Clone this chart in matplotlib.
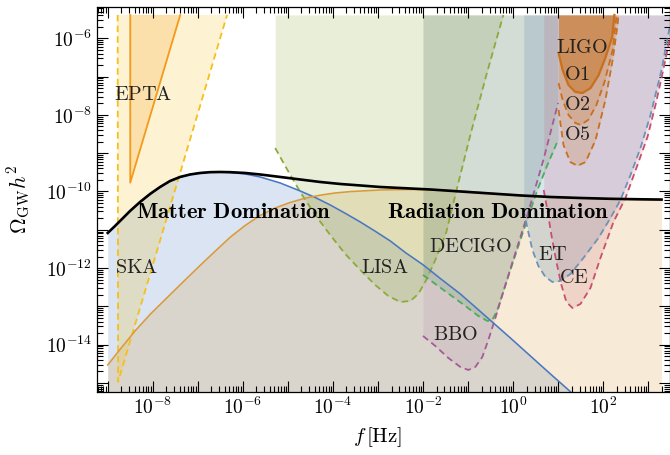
import numpy as np
import matplotlib
matplotlib.use("Agg")
import matplotlib.pyplot as plt
from matplotlib.ticker import FixedLocator, FixedFormatter, NullFormatter

plt.rcParams['mathtext.fontset'] = 'cm'
plt.rcParams['font.family'] = 'serif'
plt.rcParams['font.serif'] = ['cmr10', 'DejaVu Serif']
plt.rcParams['axes.formatter.use_mathtext'] = True

# ---------------- data (log10 f [Hz], log10 Omega_GW h^2) ----------------
TOP = -5.39          # upper end of the sensitivity regions

total_logf = [-9.000, -8.838, -8.682, -8.504, -8.282, -8.060, -7.838, -7.616, -7.393, -7.171,
              -6.949, -6.727, -6.504, -6.282, -5.949, -5.616, -5.171, -4.727, -4.282, -3.838,
              -3.393, -2.949, -2.504, -1.838, -1.171, -0.504, 0.162, 0.829, 1.496, 2.162,
              2.829, 3.296]
total_logO = [-11.083, -10.901, -10.718, -10.509, -10.274, -10.065, -9.883, -9.726, -9.621, -9.556,
              -9.517, -9.496, -9.491, -9.496, -9.517, -9.556, -9.621, -9.687, -9.752, -9.804,
              -9.843, -9.883, -9.909, -9.948, -10.000, -10.052, -10.104, -10.144, -10.170, -10.191,
              -10.204, -10.211]

matter_logf = [-9.000, -8.838, -8.682, -8.504, -8.282, -8.060, -7.838, -7.616, -7.393, -7.171,
               -6.949, -6.727, -6.504, -6.282, -5.949, -5.616, -5.171, -4.727, -4.393, -4.060,
               -3.727, -3.393, -3.060, -2.727, -2.393, -1.993, -1.616, -1.171, -0.816, -0.438,
               -0.060, 0.384, 0.829, 1.273]
matter_logO = [-11.083, -10.901, -10.718, -10.509, -10.274, -10.065, -9.883, -9.726, -9.621, -9.556,
               -9.517, -9.496, -9.491, -9.504, -9.543, -9.621, -9.778, -9.987, -10.157, -10.352,
               -10.569, -10.796, -11.039, -11.292, -11.593, -11.919, -12.272, -12.676, -13.042, -13.433,
               -13.825, -14.295, -14.765, -15.227]

rad_logf = [-9.000, -8.727, -8.393, -8.060, -7.689, -7.282, -6.949, -6.616, -6.282, -5.949,
            -5.616, -5.282, -4.949, -4.616, -4.282, -3.949, -3.616, -2.949, -2.282, -1.616,
            -0.949, -0.282, 0.384, 1.051, 1.940, 2.607, 3.296]
rad_logO = [-14.530, -14.125, -13.642, -13.211, -12.781, -12.311, -11.932, -11.561, -11.196, -10.888,
            -10.627, -10.431, -10.287, -10.175, -10.097, -10.039, -10.003, -9.961, -9.948, -9.961,
            -10.008, -10.065, -10.117, -10.159, -10.188, -10.209, -10.222]

ska_logf = [-8.78, -8.77, -6.35]
ska_logO = [TOP, -14.97, TOP]

epta_logf = [-8.50, -8.50, -7.39]
epta_logO = [TOP, -9.77, TOP]

lisa_logf = [-5.282, -5.060, -4.727, -4.393, -4.060, -3.727, -3.393, -3.060, -2.771, -2.504,
             -2.282, -2.104, -1.927, -1.727, -1.482, -1.216, -0.949, -0.593, -0.216]
lisa_logO = [-8.864, -9.334, -10.013, -10.614, -11.136, -11.632, -12.050, -12.441, -12.728, -12.885,
             -12.859, -12.676, -12.311, -11.789, -11.057, -9.778, -8.525, -6.958, TOP]

decigo_logf = [-2.000, -1.727, -1.393, -1.060, -0.771, -0.571, -0.460, -0.349, -0.060, 0.229,
               0.540, 0.762, 1.000]
decigo_logO = [-12.180, -12.415, -12.702, -12.990, -13.251, -13.381, -13.355, -13.094, -12.050, -11.031,
               -9.961, -9.308, -8.655]

bbo_logf = [-2.000, -1.727, -1.438, -1.171, -0.993, -0.838, -0.682, -0.549, -0.393, -0.171,
            0.051, 0.318, 0.673, 1.000]
bbo_logO = [-13.773, -14.034, -14.347, -14.582, -14.661, -14.582, -14.321, -13.877, -13.303, -12.441,
            -11.606, -10.614, -9.178, -7.689]

et_logf = [0.236, 0.318, 0.429, 0.562, 0.718, 0.873, 1.051, 1.273, 1.562, 1.896,
           2.162, 2.384, 2.607, 2.829, 3.051, 3.296, 3.473, 3.562]
et_logO = [-10.483, -10.953, -11.527, -11.945, -12.232, -12.363, -12.337, -12.154, -11.736, -11.214,
           -10.692, -10.222, -9.569, -8.864, -8.003, -6.828, -5.731, TOP]

ce_logf = [0.680, 0.762, 0.851, 0.962, 1.073, 1.184, 1.318, 1.496, 1.718, 1.940,
           2.229, 2.496, 2.762, 2.984, 3.162, 3.296, 3.473, 3.607]
ce_logO = [-9.961, -10.483, -11.136, -11.841, -12.441, -12.885, -13.042, -12.937, -12.520, -11.736,
           -10.796, -10.170, -9.308, -8.577, -7.742, -7.037, -6.044, TOP]

o1_logf = [1.01, 1.10, 1.23, 1.38, 1.54, 1.72, 1.90, 2.05, 2.20, 2.25]
o1_logO = [-6.38, -6.83, -7.22, -7.40, -7.43, -7.30, -6.96, -6.51, -5.97, TOP]

o2_logf = [1.01, 1.10, 1.23, 1.38, 1.50, 1.67, 1.85, 2.03, 2.21, 2.30]
o2_logO = [-7.17, -7.61, -8.00, -8.21, -8.26, -8.13, -7.74, -7.14, -6.31, TOP]

o5_logf = [1.01, 1.12, 1.27, 1.43, 1.61, 1.83, 2.05, 2.21, 2.32, 2.34]
o5_logO = [-7.87, -8.79, -9.23, -9.33, -9.23, -8.66, -7.61, -6.57, -5.65, TOP]

x_decades = list(range(-9, 4))
y_decades = list(range(-15, -5))

# ---------------- styles ----------------
C_MATTER = '#4a78c0'
C_RAD = '#d99a3a'
C_SKA = '#f5c01a'
C_EPTA = '#f49a1a'
C_LISA = '#8daa3a'
C_DECIGO = '#4aae5a'
C_BBO = '#a85a96'
C_ET = '#6c94b8'
C_CE = '#c8506e'
C_LIGO = '#c8701c'
DASH = (3.6, 2.3)

fig = plt.figure(figsize=(6.7, 4.55), dpi=100)
ax = fig.add_axes([0.1448, 0.139, 0.8545, 0.845])
ax.set_xscale('log')
ax.set_yscale('log')

def P(a):
    return 10.0 ** np.asarray(a, dtype=float)

top = 10.0 ** TOP
bot = 1e-16

# theory spectra fills
ax.fill_between(P(matter_logf), bot, P(matter_logO), color=C_MATTER, alpha=0.2, lw=0)
ax.fill_between(P(rad_logf), bot, P(rad_logO), color=C_RAD, alpha=0.2, lw=0)

def region(lf, lo, color, ls, alpha=0.2, lw=1.3):
    f = P(lf); o = P(lo)
    ax.fill_between(f, o, top, color=color, alpha=alpha, lw=0)
    if ls == '--':
        ax.plot(f, o, color=color, lw=lw, dashes=DASH)
    else:
        ax.plot(f, o, color=color, lw=lw)

# SKA (dashed edges) and EPTA (solid edges)
ax.fill(P(ska_logf), P(ska_logO), color=C_SKA, alpha=0.2, lw=0)
ax.plot(P(ska_logf), P(ska_logO), color=C_SKA, lw=1.3, dashes=DASH)
ax.fill(P(epta_logf), P(epta_logO), color=C_EPTA, alpha=0.2, lw=0)
ax.plot(P(epta_logf), P(epta_logO), color=C_EPTA, lw=1.3)

region(lisa_logf, lisa_logO, C_LISA, '--', alpha=0.2)
region(decigo_logf, decigo_logO, C_DECIGO, '--', alpha=0.2)
region(bbo_logf, bbo_logO, C_BBO, '--', alpha=0.12)
region(et_logf, et_logO, C_ET, '--', alpha=0.25)
region(ce_logf, ce_logO, C_CE, '--', alpha=0.15)
region(o5_logf, o5_logO, C_LIGO, '--', alpha=0.2)
region(o2_logf, o2_logO, C_LIGO, '--', alpha=0.2)
region(o1_logf, o1_logO, C_LIGO, '-', alpha=0.48, lw=1.6)

ax.plot(P(matter_logf), P(matter_logO), color=C_MATTER, lw=1.15)
ax.plot(P(rad_logf), P(rad_logO), color=C_RAD, lw=1.15)
ax.plot(P(total_logf), P(total_logO), color='black', lw=1.9)

# labels
tk = dict(fontsize=14.5, color='#222222', ha='center', va='center')
ax.text(10**-8.22, 10**-7.48, r'$\mathrm{EPTA}$', **tk)
ax.text(10**-8.35, 10**-12.0, r'$\mathrm{SKA}$', **tk)
ax.text(10**-2.84, 10**-12.0, r'$\mathrm{LISA}$', **tk)
ax.text(10**-0.95, 10**-11.45, r'$\mathrm{DECIGO}$', **tk)
ax.text(10**-1.28, 10**-13.75, r'$\mathrm{BBO}$', **tk)
ax.text(10**0.89, 10**-11.66, r'$\mathrm{ET}$', **tk)
ax.text(10**1.34, 10**-12.26, r'$\mathrm{CE}$', **tk)
ax.text(10**1.54, 10**-6.25, r'$\mathrm{LIGO}$', **tk)
ax.text(10**1.43, 10**-6.96, r'$\mathrm{O1}$', **tk)
ax.text(10**1.43, 10**-7.74, r'$\mathrm{O2}$', **tk)
ax.text(10**1.43, 10**-8.52, r'$\mathrm{O5}$', **tk)
bk = dict(fontsize=16.3, color='black', ha='center', va='center')
ax.text(10**-6.21, 10**-10.54, r'$\mathbf{Matter\ Domination}$', **bk)
ax.text(10**-0.33, 10**-10.54, r'$\mathbf{Radiation\ Domination}$', **bk)

ax.set_xlim(10**-9.238, 10**3.474)
ax.set_ylim(10**-15.23, 10**-5.19)

def set_ticks(axis, decades):
    major = [10.0 ** e for e in decades]
    labels = [r'$10^{%d}$' % e if e % 2 == 0 else '' for e in decades]
    minor = [k * 10.0 ** e for e in range(decades[0] - 1, decades[-1] + 1) for k in range(2, 10)]
    lo, hi = axis.get_view_interval()
    minor = [m for m in minor if lo <= m <= hi]
    axis.set_major_locator(FixedLocator(major))
    axis.set_major_formatter(FixedFormatter(labels))
    axis.set_minor_locator(FixedLocator(minor))
    axis.set_minor_formatter(NullFormatter())

set_ticks(ax.xaxis, x_decades)
set_ticks(ax.yaxis, y_decades)

ax.tick_params(which='both', direction='in', top=True, right=True, labelsize=14, width=0.8)
ax.tick_params(which='major', length=8)
ax.tick_params(which='minor', length=4)
for s in ax.spines.values():
    s.set_linewidth(0.9)

ax.set_xlabel(r'$f\,[\mathrm{Hz}]$', fontsize=15)
ax.xaxis.set_label_coords(0.49, -0.118)
ax.xaxis.label.set_va('center')
ax.set_ylabel(r'$\Omega_{\rm GW}h^2$', fontsize=15.5)
ax.yaxis.set_label_coords(-0.135, 0.5)
ax.yaxis.label.set_va('center')

fig.savefig('out.png', dpi=100)
